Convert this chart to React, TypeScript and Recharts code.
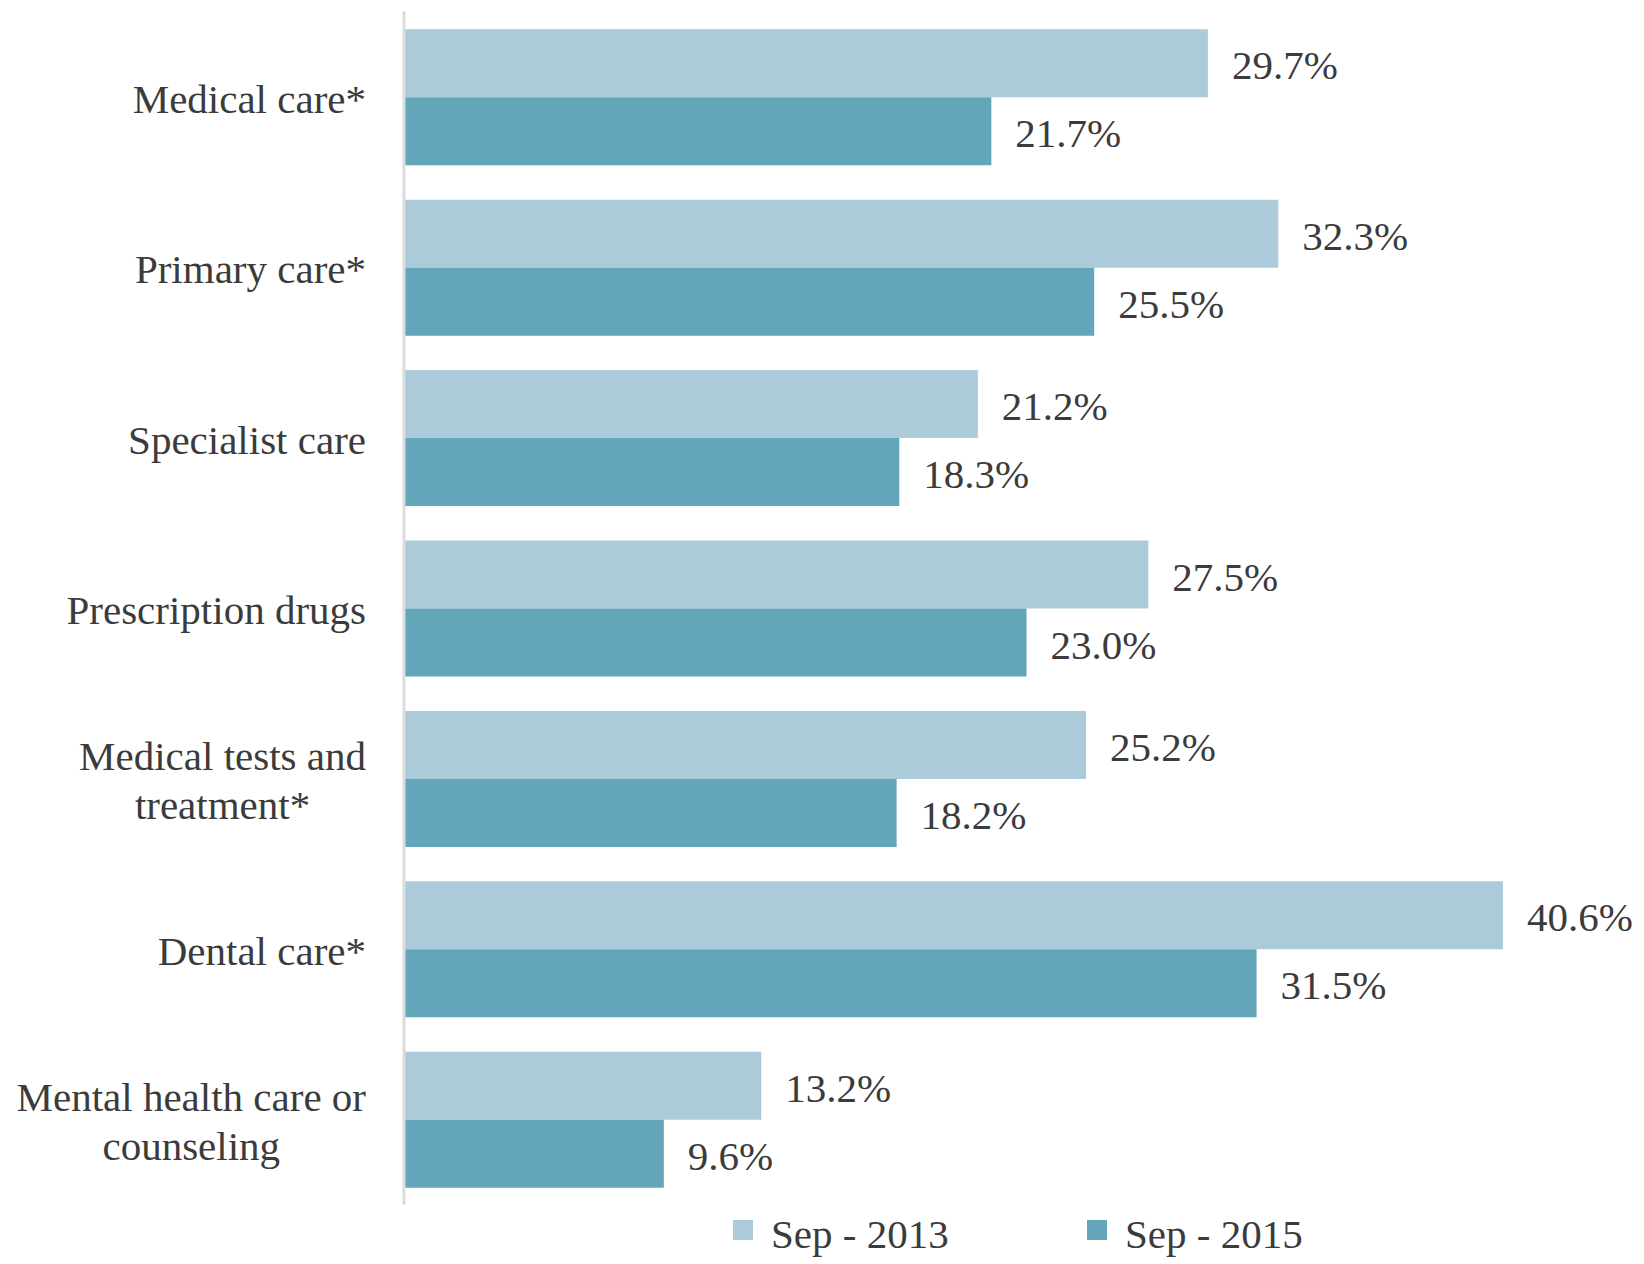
import React from 'react'
import { BarChart, Bar, XAxis, YAxis, Legend, LabelList } from 'recharts'

// Share of respondents who went without care, by type of care and survey wave.
const categories = [
  'Medical care*',
  'Primary care*',
  'Specialist care',
  'Prescription drugs',
  'Medical tests and\ntreatment*',
  'Dental care*',
  'Mental health care or\ncounseling',
]
const sep2013 = [29.7, 32.3, 21.2, 27.5, 25.2, 40.6, 13.2]
const sep2015 = [21.7, 25.5, 18.3, 23.0, 18.2, 31.5, 9.6]
const seriesNames = ['Sep - 2013', 'Sep - 2015']

const LIGHT = '#abcbdb'
const DARK = '#63a5b9'
const TEXT = '#3b3b3b'
const FONT = '"Liberation Serif", "Times New Roman", serif'
const FONT_SIZE = 41

const data = categories.map((name, i) => ({ name, a: sep2013[i], b: sep2015[i] }))

// canvas for measuring the widest line of a wrapped category label
const ctx = typeof document !== 'undefined' ? document.createElement('canvas').getContext('2d') : null
if (ctx) ctx.font = `${FONT_SIZE}px "Liberation Serif"`
const measure = (s: string) => (ctx ? ctx.measureText(s).width : s.length * FONT_SIZE * 0.45)

function CategoryTick({ x, y, payload }: any) {
  const lines = String(payload.value).split('\n')
  const widest = Math.max(...lines.map(measure))
  const cx = x - widest / 2
  const lh = 49
  const first = y - ((lines.length - 1) * lh) / 2 + 16
  return (
    <text x={cx} textAnchor="middle" fill={TEXT} fontSize={FONT_SIZE} fontFamily={FONT}>
      {lines.map((l, i) => (
        <tspan key={i} x={cx} y={first + i * lh}>
          {l}
        </tspan>
      ))}
    </text>
  )
}

function ValueLabel({ x, y, width, height, value }: any) {
  return (
    <text
      x={x + width + 24}
      y={y + height / 2 + 16}
      fill={TEXT}
      fontSize={FONT_SIZE}
      fontFamily={FONT}
    >
      {`${Number(value).toFixed(1)}%`}
    </text>
  )
}

function LegendBox() {
  const items = [
    { label: seriesNames[0], color: LIGHT },
    { label: seriesNames[1], color: DARK },
  ]
  return (
    <div style={{ display: 'flex', fontFamily: FONT, fontSize: FONT_SIZE, color: TEXT }}>
      {items.map((it) => (
        <div key={it.label} style={{ display: 'flex', alignItems: 'center', width: 354 }}>
          <span style={{ width: 20, height: 20, background: it.color, marginRight: 18, marginTop: -8 }} />
          <span style={{ lineHeight: '48px' }}>{it.label}</span>
        </div>
      ))}
    </div>
  )
}

export default function App() {
  return (
    <div style={{ position: 'absolute', left: 0, top: 0, background: '#fff' }}>
      <BarChart
        width={1644}
        height={1264}
        data={data}
        layout="vertical"
        margin={{ top: 11.6, right: 22, bottom: 59.6, left: 0 }}
        barCategoryGap={17.7}
        barGap={0}
      >
        <XAxis type="number" domain={[0, 45]} hide />
        <YAxis
          type="category"
          dataKey="name"
          width={404}
          tickLine={false}
          tickSize={0}
          tickMargin={38}
          axisLine={{ stroke: '#dcdcdc', strokeWidth: 3 }}
          tick={<CategoryTick />}
          interval={0}
        />
        <Legend
          layout="vertical"
          align="center"
          verticalAlign="middle"
          wrapperStyle={{ position: 'absolute', left: 733, top: 1210, width: 720 }}
          content={<LegendBox />}
        />
        <Bar dataKey="a" name={seriesNames[0]} fill={LIGHT} isAnimationActive={false}>
          <LabelList dataKey="a" content={<ValueLabel />} />
        </Bar>
        <Bar dataKey="b" name={seriesNames[1]} fill={DARK} isAnimationActive={false}>
          <LabelList dataKey="b" content={<ValueLabel />} />
        </Bar>
      </BarChart>
    </div>
  )
}
